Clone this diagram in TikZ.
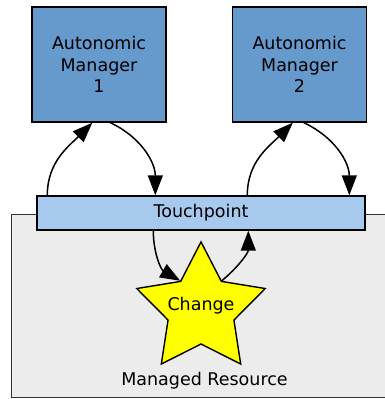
\documentclass[tikz,border=0pt]{standalone}
\usepackage{fontspec}
\setmainfont{DejaVu Sans}
\usepackage{tikz}
\usetikzlibrary{arrows.meta,shapes.geometric}
\definecolor{mgrbg}{HTML}{6699CC}
\definecolor{tpbg}{HTML}{A8C9EE}
\definecolor{resbg}{HTML}{ECECEC}
\definecolor{chgbg}{HTML}{FFFF00}
\tikzset{
  lab/.style={text=black, font=\fontsize{17.5}{21.5}\selectfont},
  mgr/.style={lab, draw=black, fill=mgrbg, line width=1.4pt, minimum width=134pt, minimum height=115pt, align=center, inner sep=0pt},
  tpbar/.style={lab, draw=black, fill=tpbg, line width=1.4pt, minimum width=328pt, minimum height=34pt, inner sep=0pt},
  resbox/.style={draw=black!80, fill=resbg, line width=1pt},
  chgstar/.style={star, star points=5, star point ratio=1.95, minimum size=135pt, draw=black, fill=chgbg, line width=1.4pt, inner sep=0pt},
  flow/.style={draw=black, line width=1.5pt, -{Triangle[length=20pt,width=15pt]}},
}

\begin{document}
\begin{tikzpicture}[x=1pt,y=1pt]
  \useasboundingbox (0,0) rectangle (384,399);
  \draw[resbox] (11,1) rectangle (395,184);
  \node[lab, anchor=base] (res) at (204.5,13) {Managed Resource};
  \node[mgr] (am1) at (99,334.5) {Autonomic\\Manager\\1};
  \node[mgr] (am2) at (299.5,334.5) {Autonomic\\Manager\\2};
  \node[tpbar] (tp) at (201,186) {Touchpoint};
  \node[chgstar] (chg) at (201,89.6) {};
  \node[lab, anchor=base] (chglab) at (201,88.3) {Change};
  % manager loops
  \draw[flow] ([xshift=11pt]tp.north west) to[out=90,in=225] ([xshift=61pt]am1.south west);
  \draw[flow] ([xshift=79pt]am1.south west) to[out=-25,in=90] ([xshift=119pt]tp.north west);
  \draw[flow] ([xshift=211pt]tp.north west) to[out=90,in=225] ([xshift=61pt]am2.south west);
  \draw[flow] ([xshift=72pt]am2.south west) to[out=-25,in=90] ([xshift=313pt]tp.north west);
  % touchpoint and resource
  \draw[flow] ([xshift=117pt]tp.south west) to[out=-90,in=150] (chg.126);
  \draw[flow] (chg.54) to[out=40,in=-90] ([xshift=212pt]tp.south west);
\end{tikzpicture}
\end{document}
